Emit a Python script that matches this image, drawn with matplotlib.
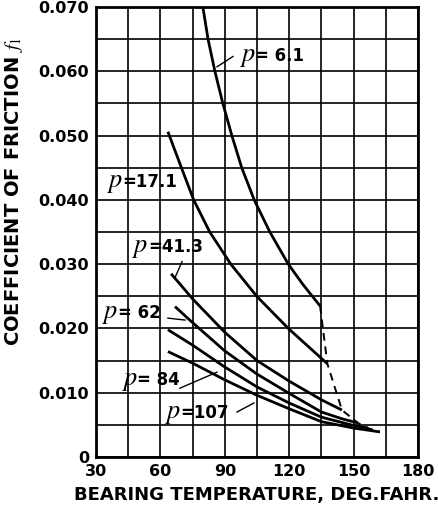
import matplotlib
matplotlib.use("Agg")
import matplotlib.pyplot as plt
from matplotlib.transforms import offset_copy

# Values (temperature in deg F, friction coefficient)
temp_p6 = [79.8, 82.2, 85.4, 89.1, 93.3, 97.9, 103.7, 111.0, 119.6, 126.5, 134.4]
fric_p6 = [0.0700, 0.0650, 0.0600, 0.0550, 0.0500, 0.0450, 0.0400, 0.0350,
           0.0300, 0.0268, 0.0235]

temp_p17 = [63.5, 69.8, 75.5, 83.0, 92.8, 104.9, 119.6, 137.8]
fric_p17 = [0.0506, 0.0450, 0.0400, 0.0350, 0.0300, 0.0250, 0.0200, 0.0145]

temp_p41 = [65.0, 75.0, 90.0, 105.0, 120.0, 135.0, 144.6]
fric_p41 = [0.0285, 0.0246, 0.0194, 0.0150, 0.0118, 0.0089, 0.0073]

temp_p62 = [66.8, 75.0, 90.0, 105.0, 120.0, 135.0, 145.0, 152.0]
fric_p62 = [0.0234, 0.0209, 0.0165, 0.0129, 0.0099, 0.0070, 0.0059, 0.0053]

temp_p84 = [63.5, 75.0, 90.0, 105.0, 120.0, 135.0, 150.0, 156.7]
fric_p84 = [0.0198, 0.0174, 0.0140, 0.0109, 0.0084, 0.0062, 0.0049, 0.0045]

temp_p107 = [63.5, 75.0, 90.0, 105.0, 120.0, 135.0, 150.0, 162.3]
fric_p107 = [0.0164, 0.0146, 0.0120, 0.0096, 0.0075, 0.0055, 0.0045, 0.0039]

pressures = ["= 6.1", "=17.1", "=41.3", "= 62", "= 84", "=107"]

x_ticks = [30, 60, 90, 120, 150, 180]
y_ticks = [0, 0.010, 0.020, 0.030, 0.040, 0.050, 0.060, 0.070]
y_tick_labels = ["0", "0.010", "0.020", "0.030", "0.040", "0.050", "0.060", "0.070"]

plt.rcParams["mathtext.fontset"] = "stix"
plt.rcParams["font.family"] = "DejaVu Sans"

fig = plt.figure(figsize=(4.39, 5.11), dpi=100)
ax = fig.add_axes([0.2187, 0.1057, 0.952 - 0.2187, 0.9863 - 0.1057])

curves = [
    (temp_p6, fric_p6),
    (temp_p17, fric_p17),
    (temp_p41, fric_p41),
    (temp_p62, fric_p62),
    (temp_p84, fric_p84),
    (temp_p107, fric_p107),
]
for temps, frics in curves:
    ax.plot(temps, frics, color="black", lw=2.0, solid_joinstyle="round",
            solid_capstyle="butt", zorder=3)

# dashed limit line joining the ends of the curves
end_t = [c[0][-1] for c in curves]
end_f = [c[1][-1] for c in curves]
ax.plot(end_t, end_f, color="black", lw=1.4, ls=(0, (4, 3)), zorder=3)

ax.set_xlim(30, 180)
ax.set_ylim(0, 0.070)
ax.set_xticks(x_ticks)
ax.set_xticks(range(30, 181, 15), minor=True)
ax.set_yticks(y_ticks)
ax.set_yticklabels(y_tick_labels)
ax.set_yticks([i * 0.005 for i in range(15)], minor=True)
ax.grid(True, which="both", color="black", lw=1.2)
ax.set_axisbelow(True)
ax.tick_params(which="both", length=0)
ax.tick_params(axis="both", labelsize=11.5, pad=5)
for lab in ax.get_xticklabels() + ax.get_yticklabels():
    lab.set_fontweight("bold")
for sp in ax.spines.values():
    sp.set_linewidth(2.0)

ax.set_xlabel("BEARING TEMPERATURE, DEG.FAHR.", fontsize=13,
              fontweight="bold", labelpad=5)
ax.set_ylabel(r"COEFFICIENT OF FRICTION $\mathit{f}_{1}$", fontsize=14,
              fontweight="bold")
ax.yaxis.set_label_coords(-0.222, 0.59)

# curve labels: script p followed by the pressure value
label_pos = [(97.0, 0.0623), (35.0, 0.0427), (47.0, 0.0326),
             (33.0, 0.0224), (42.0, 0.0120), (62.0, 0.0069)]
value_offset = offset_copy(ax.transData, fig=fig, x=11, y=0, units="points")
for p, (lx, ly) in zip(pressures, label_pos):
    ax.text(lx, ly, r"$p$", fontsize=19, va="center", ha="left", zorder=4)
    ax.text(lx, ly, p, fontsize=12, fontweight="bold", va="center",
            ha="left", zorder=4, transform=value_offset)

leaders = [
    ([93.8, 86.4], [0.0623, 0.0607]),
    ([70.1, 66.8], [0.0304, 0.0279]),
    ([63.5, 71.5], [0.0216, 0.0213]),
    ([69.1, 86.4], [0.0107, 0.0132]),
    ([95.7, 103.6], [0.0070, 0.0084]),
]
for xs, ys in leaders:
    ax.plot(xs, ys, color="black", lw=1.0, zorder=3)

fig.savefig("out.png", dpi=100)
